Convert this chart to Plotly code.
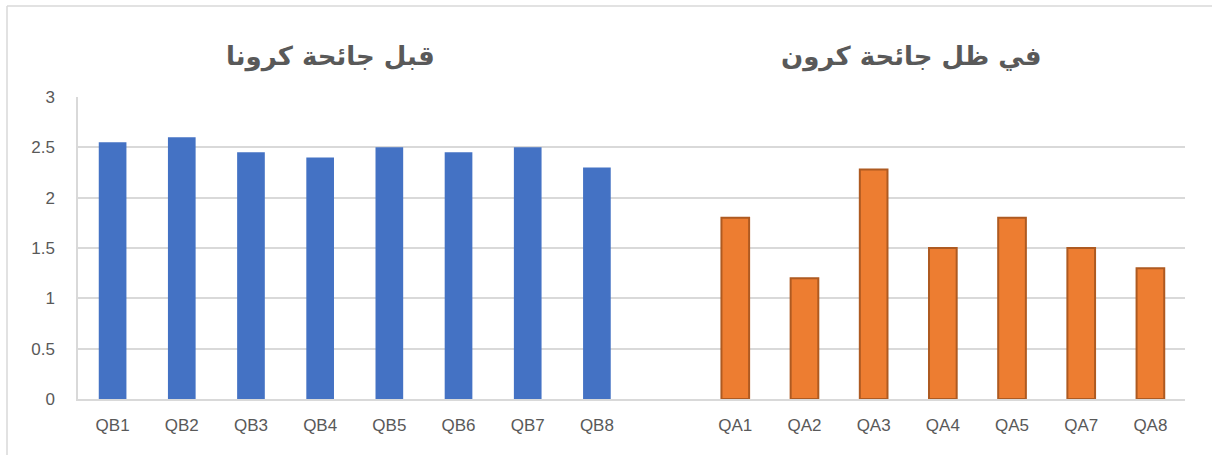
import plotly.graph_objects as go

qb_labels = ["QB1", "QB2", "QB3", "QB4", "QB5", "QB6", "QB7", "QB8"]
qb_values = [2.55, 2.6, 2.45, 2.4, 2.5, 2.45, 2.5, 2.3]
qa_labels = ["QA1", "QA2", "QA3", "QA4", "QA5", "QA7", "QA8"]
qa_values = [1.8, 1.2, 2.28, 1.5, 1.8, 1.5, 1.3]
gap_label = " "
title_before = "قبل جائحة كرونا"
title_during = "في ظل جائحة كرون"

W, H = 1212, 455
L, R, T, B = 78, 27, 97, 56
pw, ph = W - L - R, H - T - B

def px(x):
    return (x - L) / pw

def py(y):
    return (H - B - y) / ph

fig = go.Figure()
fig.add_trace(go.Bar(
    x=qb_labels + [gap_label], y=qb_values + [None],
    marker=dict(color="#4472C4", line=dict(width=0)),
    width=0.4, showlegend=False, hoverinfo="x+y",
))
fig.add_trace(go.Bar(
    x=qa_labels, y=qa_values,
    marker=dict(color="#ED7D31", line=dict(color="#AE5A21", width=2)),
    width=0.4, showlegend=False, hoverinfo="x+y",
))

cats = qb_labels + [gap_label] + qa_labels
grey = "#595959"
fig.update_layout(
    width=W, height=H,
    margin=dict(l=L, r=R, t=T, b=B),
    paper_bgcolor="white", plot_bgcolor="white",
    barmode="overlay",
    font=dict(family="Liberation Sans, DejaVu Sans, sans-serif", color=grey),
    xaxis=dict(
        type="category", categoryorder="array", categoryarray=cats,
        range=[-0.5, len(cats) - 0.5],
        showgrid=False, showline=True, linecolor="#D9D9D9", linewidth=1.5,
        ticks="", tickfont=dict(size=17, color=grey), ticklabelstandoff=10,
        zeroline=False,
    ),
    yaxis=dict(
        range=[0, 3], dtick=0.5, showgrid=True, gridcolor="#D9D9D9", gridwidth=1.5,
        showline=True, linecolor="#D9D9D9", linewidth=1.5, zeroline=False,
        ticks="", tickfont=dict(size=17, color=grey), ticklabelstandoff=18,
    ),
    annotations=[
        dict(text=title_before, xref="paper", yref="paper", x=px(330), y=py(56),
             showarrow=False, xanchor="center", yanchor="middle",
             font=dict(family="DejaVu Sans, sans-serif", size=26, color=grey, weight="bold")),
        dict(text=title_during, xref="paper", yref="paper", x=px(911), y=py(56),
             showarrow=False, xanchor="center", yanchor="middle",
             font=dict(family="DejaVu Sans, sans-serif", size=26, color=grey, weight="bold")),
    ],
    shapes=[
        dict(type="line", xref="paper", yref="paper", x0=px(7), x1=px(1230), y0=py(6), y1=py(6),
             line=dict(color="#D9D9D9", width=1.5)),
        dict(type="line", xref="paper", yref="paper", x0=px(7), x1=px(7), y0=py(6), y1=py(470),
             line=dict(color="#D9D9D9", width=1.5)),
    ],
)

fig.write_html("out.html", config={"displayModeBar": False},
               post_script="document.body.style.margin='0';")
